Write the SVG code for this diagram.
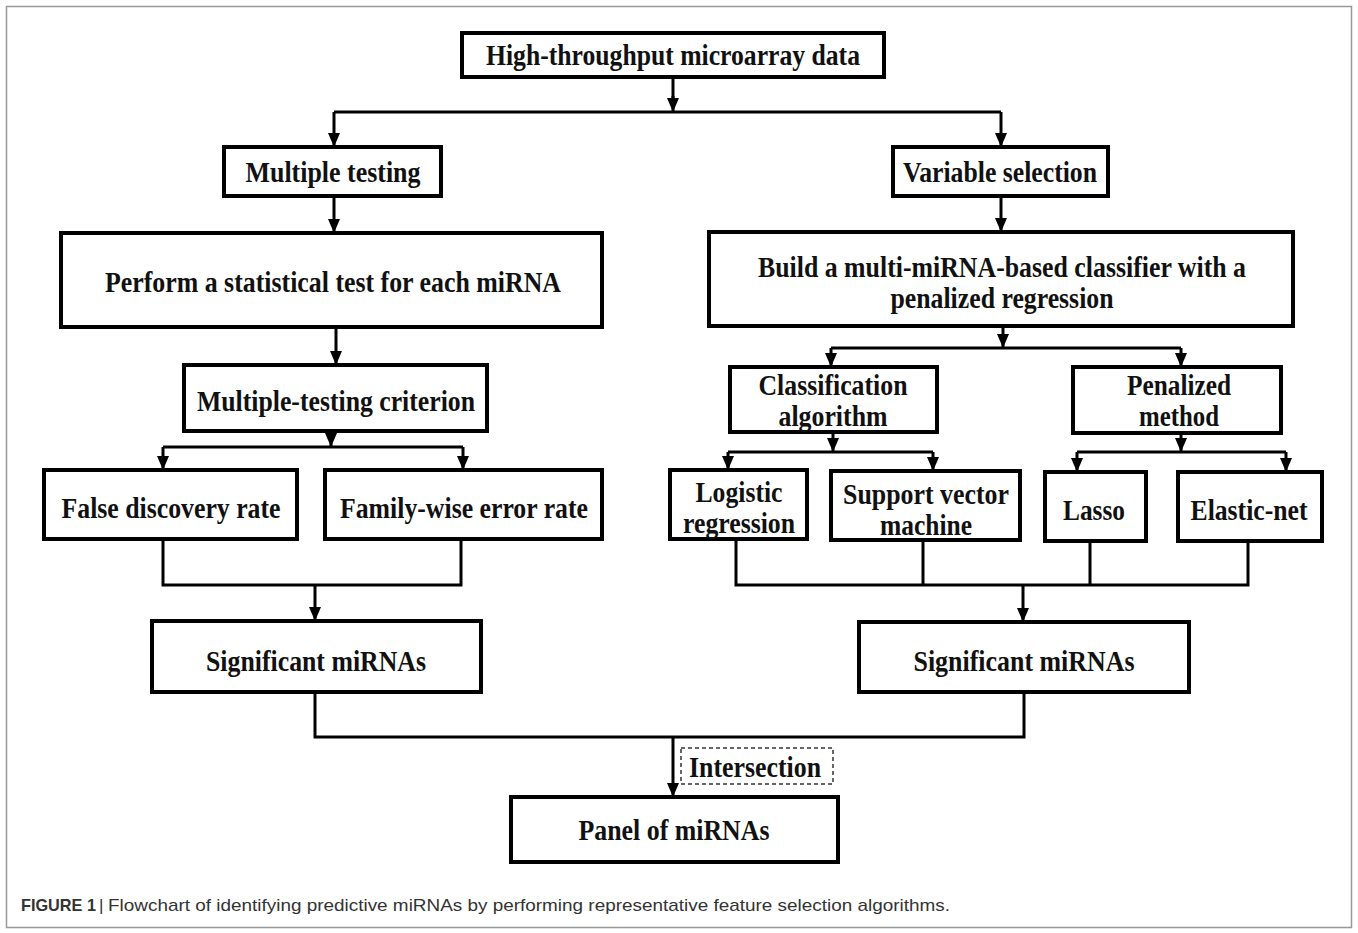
<svg xmlns="http://www.w3.org/2000/svg" width="1358" height="933" viewBox="0 0 1358 933">
<style>
.box{fill:#fff;stroke:#000;stroke-width:4}
.lbl{font-family:"Liberation Serif","Times New Roman",serif;font-weight:bold;font-size:30px;fill:#111;text-anchor:middle}
.c{fill:none;stroke:#000;stroke-width:3}
.a{fill:none;stroke:#000;stroke-width:3;marker-end:url(#ah)}
.cap{font-family:"Liberation Sans",Arial,sans-serif;font-size:17px;fill:#333}
</style>
<defs>
<marker id="ah" markerUnits="userSpaceOnUse" markerWidth="12" markerHeight="14" viewBox="0 0 12 14" refX="6" refY="14" orient="0">
<path d="M0,0 L12,0 L6,14 Z" fill="#000"/>
</marker>
</defs>
<rect x="6.5" y="6.5" width="1345" height="921" fill="#fff" stroke="#999" stroke-width="1.5"/>

<g id="connectors">
<path class="c" d="M673,77 V100"/>
<path class="a" d="M673,96 V112"/>
<path class="c" d="M334,112 H1001"/>
<path class="a" d="M334,112 V147"/>
<path class="a" d="M1001,112 V147"/>
<path class="a" d="M334,196 V233"/>
<path class="a" d="M1001,196 V232"/>
<path class="a" d="M336,327 V365"/>
<path class="a" d="M331,431 V447"/>
<path class="c" d="M163,447 H463"/>
<path class="a" d="M163,447 V470"/>
<path class="a" d="M463,447 V470"/>
<path class="c" d="M163,539 V585 H461 V539"/>
<path class="a" d="M315,585 V621"/>
<path class="a" d="M1003,326 V348"/>
<path class="c" d="M831,348 H1181"/>
<path class="a" d="M831,348 V367"/>
<path class="a" d="M1181,348 V367"/>
<path class="a" d="M833,432 V452"/>
<path class="c" d="M728,452 H933"/>
<path class="a" d="M728,452 V470"/>
<path class="a" d="M933,452 V471"/>
<path class="a" d="M1181,433 V452"/>
<path class="c" d="M1077,452 H1286"/>
<path class="a" d="M1077,452 V472"/>
<path class="a" d="M1286,452 V472"/>
<path class="c" d="M736,539 V585 H1248 V541"/>
<path class="c" d="M923,540 V585"/>
<path class="c" d="M1090,541 V585"/>
<path class="a" d="M1023,585 V622"/>
<path class="c" d="M315,692 V737 H1024 V692"/>
<path class="a" d="M673,737 V797"/>
</g>

<g id="n-data"><rect class="box" x="462" y="33" width="422" height="44"/><text class="lbl" x="673" y="65" textLength="374" lengthAdjust="spacingAndGlyphs">High-throughput microarray data</text></g>
<g id="n-multiple"><rect class="box" x="224" y="147" width="217" height="49"/><text class="lbl" x="333" y="182" textLength="175" lengthAdjust="spacingAndGlyphs">Multiple testing</text></g>
<g id="n-variable"><rect class="box" x="893" y="147" width="215" height="49"/><text class="lbl" x="1000" y="182" textLength="194" lengthAdjust="spacingAndGlyphs">Variable selection</text></g>
<g id="n-perform"><rect class="box" x="61" y="233" width="541" height="94"/><text class="lbl" x="333" y="292" textLength="456" lengthAdjust="spacingAndGlyphs">Perform a statistical test for each miRNA</text></g>
<g id="n-build"><rect class="box" x="709" y="232" width="584" height="94"/><text class="lbl" x="1002" y="277" textLength="488" lengthAdjust="spacingAndGlyphs">Build a multi-miRNA-based classifier with a</text><text class="lbl" x="1002" y="308" textLength="223" lengthAdjust="spacingAndGlyphs">penalized regression</text></g>
<g id="n-criterion"><rect class="box" x="184" y="365" width="303" height="66"/><text class="lbl" x="336" y="411" textLength="278" lengthAdjust="spacingAndGlyphs">Multiple-testing criterion</text></g>
<g id="n-classification"><rect class="box" x="730" y="367" width="207" height="65"/><text class="lbl" x="833" y="395" textLength="149" lengthAdjust="spacingAndGlyphs">Classification</text><text class="lbl" x="833" y="426" textLength="109" lengthAdjust="spacingAndGlyphs">algorithm</text></g>
<g id="n-penalized"><rect class="box" x="1073" y="367" width="208" height="66"/><text class="lbl" x="1179" y="395" textLength="104" lengthAdjust="spacingAndGlyphs">Penalized</text><text class="lbl" x="1179" y="426" textLength="80" lengthAdjust="spacingAndGlyphs">method</text></g>
<g id="n-fdr"><rect class="box" x="44" y="470" width="253" height="69"/><text class="lbl" x="171" y="518" textLength="219" lengthAdjust="spacingAndGlyphs">False discovery rate</text></g>
<g id="n-fwer"><rect class="box" x="325" y="470" width="277" height="69"/><text class="lbl" x="464" y="518" textLength="248" lengthAdjust="spacingAndGlyphs">Family-wise error rate</text></g>
<g id="n-logistic"><rect class="box" x="670" y="470" width="137" height="69"/><text class="lbl" x="739" y="502" textLength="87" lengthAdjust="spacingAndGlyphs">Logistic</text><text class="lbl" x="739" y="533" textLength="112" lengthAdjust="spacingAndGlyphs">regression</text></g>
<g id="n-svm"><rect class="box" x="831" y="471" width="189" height="69"/><text class="lbl" x="926" y="504" textLength="166" lengthAdjust="spacingAndGlyphs">Support vector</text><text class="lbl" x="926" y="535" textLength="92" lengthAdjust="spacingAndGlyphs">machine</text></g>
<g id="n-lasso"><rect class="box" x="1045" y="472" width="101" height="69"/><text class="lbl" x="1094" y="520" textLength="62" lengthAdjust="spacingAndGlyphs">Lasso</text></g>
<g id="n-elastic"><rect class="box" x="1178" y="472" width="144" height="69"/><text class="lbl" x="1249" y="520" textLength="117" lengthAdjust="spacingAndGlyphs">Elastic-net</text></g>
<g id="n-sig-left"><rect class="box" x="152" y="621" width="329" height="71"/><text class="lbl" x="316" y="671" textLength="220" lengthAdjust="spacingAndGlyphs">Significant miRNAs</text></g>
<g id="n-sig-right"><rect class="box" x="859" y="622" width="330" height="70"/><text class="lbl" x="1024" y="671" textLength="221" lengthAdjust="spacingAndGlyphs">Significant miRNAs</text></g>
<g id="n-intersection"><rect x="681" y="748" width="152" height="36" fill="none" stroke="#333" stroke-width="1.5" stroke-dasharray="4 3"/><text class="lbl" x="755" y="777" textLength="132" lengthAdjust="spacingAndGlyphs">Intersection</text></g>
<g id="n-panel"><rect class="box" x="511" y="797" width="327" height="65"/><text class="lbl" x="674" y="840" textLength="191" lengthAdjust="spacingAndGlyphs">Panel of miRNAs</text></g>

<text class="cap" x="21" y="911" font-weight="bold" fill="#222" textLength="75" lengthAdjust="spacingAndGlyphs">FIGURE 1</text>
<text class="cap" x="99" y="911" fill="#222">|</text>
<text class="cap" x="108" y="911" textLength="842" lengthAdjust="spacingAndGlyphs">Flowchart of identifying predictive miRNAs by performing representative feature selection algorithms.</text>
</svg>
